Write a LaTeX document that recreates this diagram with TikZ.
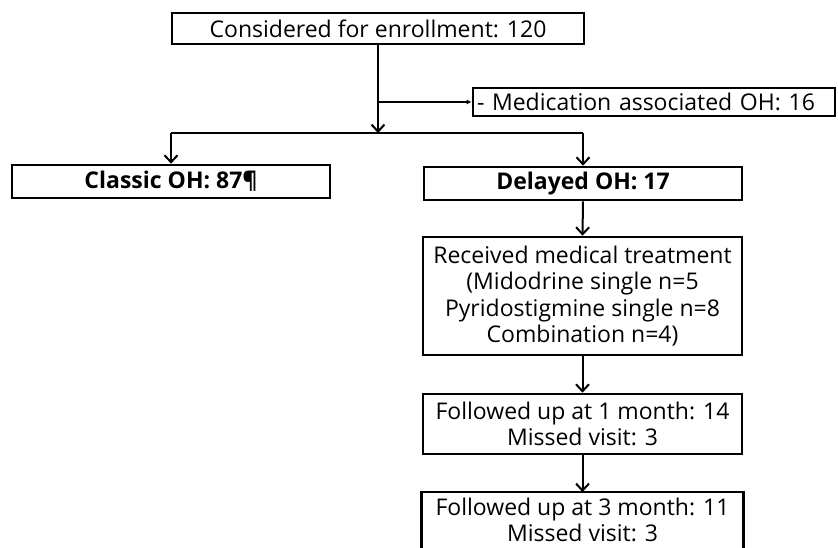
\documentclass[tikz,border=0pt]{standalone}
\usepackage{fontspec}
\setmainfont{Open Sans}
\usetikzlibrary{arrows.meta,calc}
\begin{document}
\begin{tikzpicture}[x=1pt,y=-1pt,
  box/.style={draw=black,line width=2.6pt,inner sep=0pt,align=center,
    font=\fontsize{23}{26.5}\selectfont},
  bbox/.style={box,font=\fontsize{23}{26.5}\selectfont\bfseries},
  conn/.style={line width=2pt,-{Straight Barb[length=7pt,width=13pt,line width=2pt]}},
  conn2/.style={line width=2pt,-{Latex[length=5pt,width=5pt]}}]
\useasboundingbox (0,0) rectangle (838,547);
\node[box,minimum width=412pt,minimum height=31pt] (top) at (378,28.5) {Considered for enrollment: 120};
\node[box,minimum width=362pt,minimum height=28pt,text width=354pt,align=left] (med) at (654,102) {- Medication associated OH: 16};
\node[bbox,minimum width=318pt,minimum height=33pt] (classic) at (171,181.5) {Classic OH: 87¶};
\node[bbox,minimum width=318pt,minimum height=33pt] (delayed) at (583,183.5) {Delayed OH: 17};
\node[box,minimum width=319pt,minimum height=118pt] (recv) at (582.5,296) {Received medical treatment\\(Midodrine single n=5\\Pyridostigmine single n=8\\Combination n=4)};
\node[box,minimum width=319pt,minimum height=60pt] (fu1) at (582.5,424) {Followed up at 1 month: 14\\Missed visit: 3};
\node[box,draw=none,minimum width=319pt,minimum height=53pt,anchor=north] (fu3) at (582.5,492) {Followed up at 3 month: 11\\Missed visit: 3};
\draw[line width=2.6pt] (fu3.north west) rectangle ($(fu3.north east)+(0,64)$);
\coordinate (br) at (top.south |- med.west);
\coordinate (j) at (378,133);
\coordinate (jl) at (classic.north |- j);
\coordinate (jr) at (delayed.north |- j);
\draw[conn] (top.south) -- (j);
\draw[conn2] (br) -- (med.west);
\draw[line width=2pt] (jl) -- (jr);
\draw[conn] (jl) -- (classic.north);
\draw[conn] (jr) -- (delayed.north);
\draw[conn] (delayed.south) -- (recv.north);
\draw[conn] (recv.south) -- (fu1.north);
\draw[conn] (fu1.south) -- (fu3.north);
\end{tikzpicture}
\end{document}
